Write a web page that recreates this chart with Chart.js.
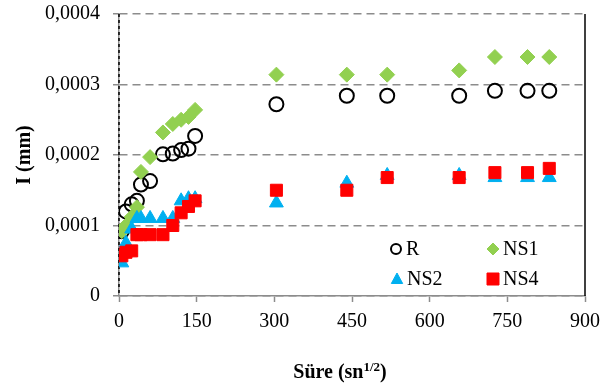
<!DOCTYPE html>
<html>
<head>
<meta charset="utf-8">
<script src="https://cdn.jsdelivr.net/npm/chart.js@4.4.1/dist/chart.umd.min.js"></script>
<style>
  html, body { margin: 0; padding: 0; background: #fff; }
  #chart { display: block; }
</style>
</head>
<body>
<canvas id="chart" width="603" height="385"></canvas>
<script>
// Süre (sn^1/2)
const times = [5.5, 13.4, 24.5, 34.6, 42.4, 60, 84.9, 103.9, 120, 134.2, 147, 304, 440, 518, 657, 726, 789, 831];

// I (mm)
const seriesR   = [0.000092, 0.00012, 0.00013, 0.000135, 0.000158, 0.000163, 0.000201, 0.000202, 0.000207, 0.000209, 0.000227, 0.000272, 0.000284, 0.000284, 0.000284, 0.000291, 0.000291, 0.000291];
const seriesNS1 = [0.000092, 0.0001, 0.000112, 0.000126, 0.000176, 0.000197, 0.000232, 0.000244, 0.00025, 0.000254, 0.000264, 0.000314, 0.000314, 0.000314, 0.00032, 0.000339, 0.000339, 0.000339];
const seriesNS2 = [0.000047, 0.000075, 0.000095, 0.00011, 0.00011, 0.00011, 0.00011, 0.00011, 0.000135, 0.000138, 0.000138, 0.000132, 0.00016, 0.000171, 0.000171, 0.000168, 0.000168, 0.000168];
const seriesNS4 = [0.000057, 0.000062, 0.000064, 0.000087, 0.000087, 0.000087, 0.000087, 0.0001, 0.000118, 0.000127, 0.000135, 0.00015, 0.00015, 0.000168, 0.000168, 0.000175, 0.000175, 0.000181];

const seriesNames = ["R", "NS1", "NS2", "NS4"];
const xTicks = [0, 150, 300, 450, 600, 750, 900];
const yTicks = [0, 0.0001, 0.0002, 0.0003, 0.0004];

const toPoints = (vals) => times.map((t, i) => ({ x: t, y: vals[i] }));

const fontFamily = "'Liberation Serif', 'Times New Roman', serif";

function yLabel(v) {
  if (v === 0) return "0";
  return v.toFixed(4).replace(".", ",");
}

// draw a small marker for the legend
function drawMarker(ctx, ds, x, y, r) {
  ctx.save();
  ctx.fillStyle = ds.backgroundColor;
  ctx.strokeStyle = ds.borderColor;
  ctx.lineWidth = ds.pointStyle === "circle" ? 2 : 1;
  ctx.beginPath();
  if (ds.pointStyle === "circle") {
    ctx.arc(x, y, r, 0, Math.PI * 2);
  } else if (ds.pointStyle === "rectRot") {
    ctx.moveTo(x, y - r); ctx.lineTo(x + r, y); ctx.lineTo(x, y + r); ctx.lineTo(x - r, y);
    ctx.closePath();
  } else if (ds.pointStyle === "triangle") {
    ctx.moveTo(x, y - r); ctx.lineTo(x + r * 0.95, y + r * 0.75); ctx.lineTo(x - r * 0.95, y + r * 0.75);
    ctx.closePath();
  } else {
    ctx.rect(x - r, y - r, 2 * r, 2 * r);
  }
  if (ds.pointStyle !== "circle") ctx.fill();
  ctx.stroke();
  ctx.restore();
}

const decorPlugin = {
  id: "decor",
  beforeDatasetsDraw(chart) {
    const { ctx, chartArea } = chart;
    ctx.save();
    // right frame line
    ctx.strokeStyle = "#000";
    ctx.lineWidth = 1.5;
    ctx.beginPath();
    ctx.moveTo(chartArea.right, chartArea.top);
    ctx.lineTo(chartArea.right, chartArea.bottom);
    ctx.stroke();
    // dashed black over the value axis
    ctx.setLineDash([3, 3]);
    ctx.beginPath();
    ctx.moveTo(chartArea.left, chartArea.top);
    ctx.lineTo(chartArea.left, chartArea.bottom);
    ctx.stroke();
    ctx.restore();
  },
  afterDraw(chart) {
    const { ctx, chartArea } = chart;
    ctx.save();
    // x axis title with superscript
    const main = "Süre (sn";
    const sup = "1/2";
    const close = ")";
    ctx.fillStyle = "#000";
    ctx.textBaseline = "alphabetic";
    ctx.font = "bold 20px " + fontFamily;
    const w1 = ctx.measureText(main).width;
    const w3 = ctx.measureText(close).width;
    ctx.font = "bold 13px " + fontFamily;
    const w2 = ctx.measureText(sup).width;
    const cx = (chartArea.left + chartArea.right) / 2 - 12;
    let x = cx - (w1 + w2 + w3) / 2;
    const base = 378;
    ctx.font = "bold 20px " + fontFamily;
    ctx.fillText(main, x, base);
    x += w1;
    ctx.font = "bold 13px " + fontFamily;
    ctx.fillText(sup, x, base - 7);
    x += w2;
    ctx.font = "bold 20px " + fontFamily;
    ctx.fillText(close, x, base);

    // legend inside plot
    const ds = chart.data.datasets;
    const spots = [[396, 249], [493, 249], [397, 279], [493, 279]];
    ctx.font = "20px " + fontFamily;
    ctx.textBaseline = "middle";
    ds.forEach((d, i) => {
      const [mx, my] = spots[i];
      drawMarker(ctx, d, mx, my, d.pointStyle === "circle" ? 5 : 6);
      ctx.fillStyle = "#000";
      ctx.fillText(d.label, mx + 10, my + 1);
    });
    ctx.restore();
  }
};

new Chart(document.getElementById("chart"), {
  type: "scatter",
  data: {
    datasets: [
      {
        label: seriesNames[0],
        data: toPoints(seriesR),
        pointStyle: "circle",
        pointRadius: 7,
        borderWidth: 2,
        borderColor: "#000000",
        backgroundColor: "rgba(0,0,0,0)",
        order: 4
      },
      {
        label: seriesNames[1],
        data: toPoints(seriesNS1),
        pointStyle: "rectRot",
        pointRadius: 7.5,
        borderWidth: 1,
        borderColor: "#92d050",
        backgroundColor: "#92d050",
        order: 3
      },
      {
        label: seriesNames[2],
        data: toPoints(seriesNS2),
        pointStyle: "triangle",
        pointRadius: 8,
        borderWidth: 1,
        borderColor: "#00b0f0",
        backgroundColor: "#00b0f0",
        order: 2
      },
      {
        label: seriesNames[3],
        data: toPoints(seriesNS4),
        pointStyle: "rect",
        pointRadius: 8.5,
        borderWidth: 1,
        borderColor: "#ff0000",
        backgroundColor: "#ff0000",
        order: 1
      }
    ]
  },
  options: {
    responsive: false,
    animation: false,
    devicePixelRatio: 1,
    layout: { padding: { top: 14, right: 18, left: 0, bottom: 0 } },
    plugins: {
      legend: { display: false },
      tooltip: { enabled: false }
    },
    scales: {
      x: {
        type: "linear",
        min: 0,
        max: 900,
        afterBuildTicks: (s) => { s.ticks = xTicks.map((v) => ({ value: v })); },
        afterFit: (s) => { s.height = 89; s.paddingLeft = 0; s.paddingRight = 0; },
        grid: {
          drawOnChartArea: false,
          color: "#8c8c8c",
          tickLength: 6,
          tickWidth: 1.5
        },
        border: { color: "#8c8c8c", width: 1.5 },
        ticks: {
          color: "#000",
          padding: 8,
          maxRotation: 0,
          font: { family: fontFamily, size: 20 }
        }
      },
      y: {
        min: 0,
        max: 0.0004,
        afterBuildTicks: (s) => { s.ticks = yTicks.map((v) => ({ value: v })); },
        afterFit: (s) => { s.width = 119; s.paddingTop = 0; s.paddingBottom = 0; },
        grid: {
          color: "#8c8c8c",
          lineWidth: 1.5,
          tickLength: 6,
          tickWidth: 1.5,
          tickBorderDash: []
        },
        border: { color: "#8c8c8c", width: 1.5, dash: [8, 5] },
        ticks: {
          color: "#000",
          padding: 13,
          font: { family: fontFamily, size: 20 },
          callback: (v) => yLabel(v)
        },
        title: {
          display: true,
          text: "I (mm)",
          color: "#000",
          padding: { top: 13, bottom: 0 },
          font: { family: fontFamily, size: 20, weight: "bold" }
        }
      }
    }
  },
  plugins: [decorPlugin]
});
</script>
</body>
</html>
